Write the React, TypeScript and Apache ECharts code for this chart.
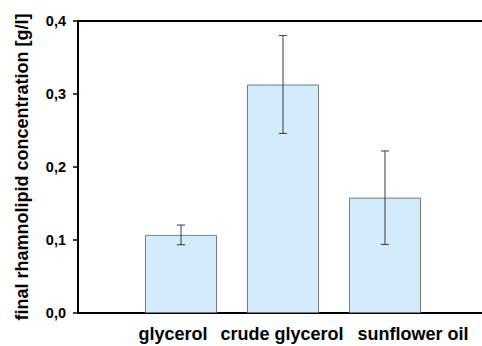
import React, { useEffect, useRef } from "react";
import * as echarts from "echarts";

const categories = ["glycerol", "crude glycerol", "sunflower oil"];
const means = [0.107, 0.313, 0.158];
const errors = [0.0135, 0.067, 0.064];
const yTicks = [0, 0.1, 0.2, 0.3, 0.4];
// horizontal nudge of each category label relative to its bar (px)
const labelShift = [-8, -1, 28];

const FONT = "'Liberation Sans', Arial, sans-serif";

export default function App() {
  const ref = useRef<HTMLDivElement>(null);

  useEffect(() => {
    document.body.style.margin = "0";
    if (!ref.current) return;
    const chart = echarts.init(ref.current, undefined, { renderer: "svg" });

    const errData = means.map((m, i) => [i, m - errors[i], m + errors[i]]);
    const catData = categories.map((c, i) => {
      const s = labelShift[i];
      return {
        value: c,
        textStyle: { padding: s >= 0 ? [0, 0, 0, 2 * s] : [0, -2 * s, 0, 0] },
      };
    });

    chart.setOption({
      animation: false,
      grid: [
        { left: 130, right: 46, top: 21, bottom: 33 },
        { left: 78, right: -2, top: 21, bottom: 33 },
      ],
      xAxis: [
        {
          type: "category",
          gridIndex: 0,
          data: catData,
          axisLine: { show: false },
          axisTick: { show: false },
          axisLabel: {
            color: "#000",
            fontFamily: FONT,
            fontWeight: "bold",
            fontSize: 18,
            margin: 12,
            interval: 0,
          },
        },
        {
          type: "value",
          gridIndex: 1,
          position: "bottom",
          axisLine: { show: true, lineStyle: { color: "#000", width: 2 } },
          axisTick: { show: false },
          axisLabel: { show: false },
          splitLine: { show: false },
        },
        {
          type: "value",
          gridIndex: 1,
          position: "top",
          axisLine: { show: true, lineStyle: { color: "#000", width: 2 } },
          axisTick: { show: false },
          axisLabel: { show: false },
          splitLine: { show: false },
        },
      ],
      yAxis: [
        {
          type: "value",
          gridIndex: 0,
          min: 0,
          max: 0.4,
          interval: 0.1,
          show: false,
        },
        {
          type: "value",
          gridIndex: 1,
          min: yTicks[0],
          max: yTicks[yTicks.length - 1],
          interval: 0.1,
          name: "final rhamnolipid concentration [g/l]",
          nameLocation: "middle",
          nameGap: 47,
          nameTextStyle: {
            color: "#000",
            fontFamily: FONT,
            fontWeight: "bold",
            fontSize: 18,
          },
          axisLine: { show: true, lineStyle: { color: "#000", width: 2 } },
          axisTick: { show: true, length: 5, lineStyle: { color: "#000", width: 1.5 } },
          axisLabel: {
            color: "#000",
            fontFamily: FONT,
            fontWeight: "bold",
            fontSize: 14.5,
            margin: 12,
            formatter: (v: number) => v.toFixed(1).replace(".", ","),
          },
          splitLine: { show: false },
        },
      ],
      series: [
        {
          type: "bar",
          xAxisIndex: 0,
          yAxisIndex: 0,
          data: means,
          barWidth: 72,
          itemStyle: { color: "#d3ebfb", borderColor: "#7a7a7a", borderWidth: 1 },
        },
        {
          type: "custom",
          xAxisIndex: 0,
          yAxisIndex: 0,
          data: errData,
          z: 10,
          renderItem: (params: any, api: any) => {
            const x = api.value(0);
            const lo = api.coord([x, api.value(1)]);
            const hi = api.coord([x, api.value(2)]);
            const cap = 4;
            const style = { stroke: "#3a3a3a", lineWidth: 1 };
            return {
              type: "group",
              children: [
                { type: "line", shape: { x1: lo[0], y1: lo[1], x2: hi[0], y2: hi[1] }, style },
                { type: "line", shape: { x1: hi[0] - cap, y1: hi[1], x2: hi[0] + cap, y2: hi[1] }, style },
                { type: "line", shape: { x1: lo[0] - cap, y1: lo[1], x2: lo[0] + cap, y2: lo[1] }, style },
              ],
            };
          },
        },
      ],
    });

    return () => chart.dispose();
  }, []);

  return <div ref={ref} style={{ width: 482, height: 346 }} />;
}
